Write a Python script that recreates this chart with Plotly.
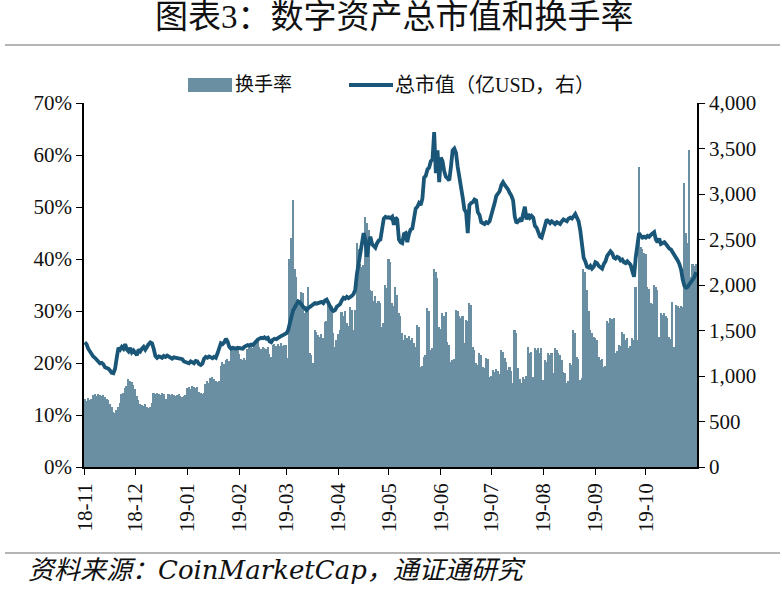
import pandas as pd
import plotly.graph_objects as go

# ---------------- data ----------------
start_date = "2018-11-01"

# daily turnover, %
turnover_2018_11 = [13.0, 12.6, 13.2, 12.8, 13.1, 13.8, 14.0, 13.7, 14.1, 13.9,
                    13.6, 13.8, 13.4, 13.0, 12.8, 12.2, 11.6, 10.6, 10.4, 11.0,
                    11.6, 12.4, 14.0, 14.3, 15.2, 15.6, 17.0, 16.6, 16.3, 15.8]
turnover_2018_12 = [15.0, 13.6, 12.8, 12.2, 12.0, 11.8, 12.1, 11.5, 11.3, 11.6,
                    12.4, 14.2, 14.0, 14.3, 14.1, 13.8, 14.2, 14.0, 13.1, 13.0,
                    14.0, 13.8, 14.1, 13.9, 13.6, 13.8, 14.0, 13.7, 13.4, 13.6, 13.9]
turnover_2019_01 = [15.2, 15.4, 15.0, 15.5, 15.3, 15.1, 15.4, 14.4, 14.2, 14.0,
                    14.3, 16.0, 16.5, 16.2, 17.2, 17.4, 17.0, 16.6, 16.3, 16.5,
                    19.5, 20.2, 19.8, 20.6, 20.8, 20.4, 22.5, 23.2, 22.8, 23.0, 22.6]
turnover_2019_02 = [21.8, 20.8, 20.5, 20.9, 20.6, 22.6, 23.0, 23.2, 22.8, 23.4,
                    24.4, 24.6, 23.0, 22.7, 23.1, 22.9, 22.6, 23.0, 21.8, 21.2,
                    23.4, 23.7, 23.2, 23.6, 23.3, 23.8, 23.2, 23.4]
turnover_2019_03 = [23.5, 21.0, 40.0, 44.0, 51.4, 38.0, 36.5, 32.0, 31.5, 33.7,
                    33.5, 29.6, 31.0, 34.7, 22.0, 21.5, 20.0, 26.4, 26.0, 25.4,
                    25.0, 25.6, 24.8, 27.8, 28.0, 31.6, 30.5, 31.0, 25.8, 23.1, 24.5]
turnover_2019_04 = [25.5, 26.4, 29.9, 29.0, 30.0, 27.7, 27.2, 30.8, 30.2, 26.4,
                    30.2, 43.0, 42.0, 39.0, 38.5, 38.8, 48.0, 47.0, 45.6, 34.0,
                    33.8, 32.0, 32.8, 31.6, 32.0, 31.5, 27.0, 27.7, 35.0, 34.5]
turnover_2019_05 = [40.0, 39.5, 31.6, 31.0, 34.7, 33.0, 29.6, 29.0, 25.8, 24.5,
                    25.4, 24.9, 25.2, 24.5, 24.9, 23.9, 23.1, 27.4, 27.0, 19.3,
                    19.5, 21.2, 21.6, 30.6, 30.0, 22.5, 22.9, 38.0, 37.5, 36.4, 27.0]
turnover_2019_06 = [26.5, 29.6, 29.0, 29.8, 24.0, 23.5, 20.2, 20.5, 20.8, 30.2,
                    30.0, 29.0, 28.6, 29.0, 23.9, 28.3, 28.0, 31.6, 31.2, 23.1,
                    22.5, 20.0, 19.6, 22.0, 21.6, 19.3, 19.0, 21.0, 20.8, 17.3]
turnover_2019_07 = [17.5, 18.7, 18.3, 18.9, 18.4, 17.8, 22.5, 22.2, 21.0, 20.2,
                    18.7, 19.2, 18.5, 16.2, 26.4, 25.8, 19.0, 17.0, 16.2, 17.3,
                    17.0, 17.5, 23.1, 22.0, 22.2, 17.3, 22.9, 22.5, 22.8, 22.0, 22.9]
turnover_2019_08 = [16.8, 20.6, 20.2, 22.0, 21.5, 22.0, 18.1, 22.9, 22.5, 22.0,
                    21.6, 20.6, 18.3, 18.0, 16.2, 16.5, 20.0, 19.6, 26.4, 25.8,
                    21.2, 20.8, 16.8, 17.2, 38.0, 37.5, 34.0, 30.0, 26.4, 25.8, 25.0]
turnover_2019_09 = [24.9, 24.5, 21.2, 20.6, 20.8, 19.3, 19.5, 28.0, 27.6, 28.7,
                    28.4, 28.7, 22.0, 22.4, 23.5, 23.2, 26.0, 25.6, 24.5, 24.8,
                    22.9, 23.2, 24.9, 24.5, 34.7, 24.5, 57.6, 42.4, 42.0, 41.2]
turnover_2019_10 = [41.0, 34.7, 34.2, 31.6, 31.4, 35.0, 34.6, 34.0, 25.0, 29.6,
                    29.2, 29.6, 29.0, 28.6, 25.0, 24.6, 31.8, 23.1, 31.2, 31.0,
                    30.6, 31.0, 30.8, 54.7, 45.0, 43.0, 61.0, 36.6, 39.0, 38.6, 39.0]

# daily total market cap, 亿USD
mcap_2018_11 = [1370, 1350, 1300, 1270, 1240, 1215, 1200, 1180, 1150, 1140,
                1145, 1130, 1095, 1090, 1080, 1060, 1035, 1030, 1080, 1200,
                1310, 1290, 1320, 1300, 1350, 1290, 1270, 1310, 1260, 1280]
mcap_2018_12 = [1250, 1230, 1290, 1270, 1300, 1320, 1290, 1330, 1350, 1370,
                1360, 1300, 1220, 1200, 1215, 1210, 1200, 1220, 1210, 1225,
                1215, 1200, 1190, 1205, 1200, 1190, 1195, 1180, 1185, 1160, 1150]
mcap_2019_01 = [1150, 1140, 1160, 1150, 1140, 1165, 1160, 1130, 1120, 1135,
                1190, 1210, 1200, 1215, 1205, 1195, 1210, 1200, 1250, 1320,
                1360, 1350, 1370, 1410, 1380, 1320, 1300, 1310, 1305, 1300, 1310]
mcap_2019_02 = [1305, 1310, 1300, 1320, 1330, 1340, 1335, 1345, 1340, 1360,
                1390, 1400, 1410, 1420, 1415, 1425, 1410, 1420, 1380, 1370,
                1400, 1410, 1405, 1420, 1430, 1440, 1450, 1460]
mcap_2019_03 = [1470, 1500, 1560, 1650, 1720, 1760, 1800, 1820, 1810, 1780,
                1760, 1740, 1725, 1745, 1760, 1770, 1780, 1800, 1795, 1805,
                1810, 1815, 1800, 1830, 1840, 1800, 1760, 1730, 1715, 1725, 1760]
mcap_2019_04 = [1770, 1790, 1830, 1860, 1850, 1870, 1855, 1865, 1880, 1900,
                1950, 2120, 2250, 2380, 2450, 2570, 2500, 2310, 2450, 2530,
                2450, 2420, 2410, 2460, 2490, 2500, 2620, 2730, 2750, 2740]
mcap_2019_05 = [2745, 2735, 2750, 2660, 2740, 2720, 2500, 2470, 2460, 2560,
                2570, 2470, 2560, 2610, 2620, 2720, 2840, 2860, 2900, 2880,
                2950, 3180, 3200, 3270, 3290, 3360, 3380, 3680, 3230, 3480, 3130]
mcap_2019_06 = [3400, 3360, 3250, 3190, 3170, 3150, 3300, 3480, 3500, 3450,
                3300, 3200, 3050, 2960, 2830, 2800, 2570, 2880, 2900, 2910,
                2940, 2930, 2800, 2770, 2690, 2680, 2670, 2690, 2680, 2700]
mcap_2019_07 = [2760, 2830, 2900, 2980, 3010, 3030, 3100, 3130, 3100, 3080,
                3050, 3010, 2980, 2930, 2750, 2680, 2700, 2720, 2700, 2800,
                2860, 2720, 2780, 2740, 2760, 2740, 2650, 2630, 2560, 2530, 2520]
mcap_2019_08 = [2590, 2680, 2720, 2700, 2680, 2700, 2690, 2670, 2690, 2680,
                2670, 2700, 2720, 2710, 2700, 2730, 2740, 2730, 2760, 2780,
                2740, 2700, 2600, 2480, 2300, 2260, 2200, 2190, 2210, 2180, 2200]
mcap_2019_09 = [2250, 2240, 2210, 2200, 2180, 2230, 2260, 2320, 2340, 2370,
                2350, 2300, 2290, 2310, 2300, 2270, 2280, 2250, 2240, 2260,
                2240, 2220, 2150, 2090, 2300, 2460, 2570, 2540, 2520, 2530]
mcap_2019_10 = [2520, 2540, 2530, 2550, 2560, 2580, 2500, 2470, 2510, 2450,
                2460, 2470, 2450, 2420, 2400, 2390, 2360, 2340, 2310, 2270,
                2230, 2170, 2060, 1990, 1970, 1980, 2010, 2030, 2060, 2090, 2140]

month_labels = ["18-11", "18-12", "19-01", "19-02", "19-03", "19-04",
                "19-05", "19-06", "19-07", "19-08", "19-09", "19-10", ""]
left_ticks = [0, 10, 20, 30, 40, 50, 60, 70]
right_ticks = [0, 500, 1000, 1500, 2000, 2500, 3000, 3500, 4000]

title_text = "图表3：数字资产总市值和换手率"
bar_name = "换手率"
line_name = "总市值（亿USD，右）"
source_text = "资料来源：CoinMarketCap，通证通研究"

# ---------------- assemble ----------------
turnover = (turnover_2018_11 + turnover_2018_12 + turnover_2019_01 + turnover_2019_02 +
            turnover_2019_03 + turnover_2019_04 + turnover_2019_05 + turnover_2019_06 +
            turnover_2019_07 + turnover_2019_08 + turnover_2019_09 + turnover_2019_10)
mcap = (mcap_2018_11 + mcap_2018_12 + mcap_2019_01 + mcap_2019_02 +
        mcap_2019_03 + mcap_2019_04 + mcap_2019_05 + mcap_2019_06 +
        mcap_2019_07 + mcap_2019_08 + mcap_2019_09 + mcap_2019_10)
dates = pd.date_range(start_date, periods=len(turnover), freq="D")
month_ticks = pd.date_range("2018-11-01", "2019-11-01", freq="MS")

BAR_COLOR = "#6b8fa2"
LINE_COLOR = "#1a5677"
NUM_FONT = "Liberation Serif, Noto Sans CJK SC"

fig = go.Figure()
fig.add_trace(go.Bar(x=dates, y=turnover, name=bar_name, yaxis="y",
                     marker=dict(color=BAR_COLOR, line=dict(width=0)),
                     showlegend=False))
fig.add_trace(go.Scatter(x=dates, y=mcap, name=line_name, yaxis="y2", mode="lines",
                         line=dict(color=LINE_COLOR, width=3.8),
                         showlegend=False))

W, H = 782, 590
L, R, T, B = 84, 697, 103, 467


def px_x(p):
    return (p - L) / (R - L)


def px_y(p):
    return (B - p) / (B - T)


axis_common = dict(showline=True, linecolor="black", linewidth=1.6,
                   ticks="outside", tickcolor="black", ticklen=6, tickwidth=1.4,
                   showgrid=False, zeroline=False, automargin=False,
                   tickfont=dict(family=NUM_FONT, size=21, color="#111"))

fig.update_layout(
    width=W, height=H,
    margin=dict(l=L, r=W - R, t=T, b=H - B, pad=0),
    paper_bgcolor="white", plot_bgcolor="white",
    bargap=0,
    xaxis=dict(type="date",
               range=[dates[0] - pd.Timedelta(hours=12), dates[-1] + pd.Timedelta(hours=12)],
               tickmode="array", tickvals=list(month_ticks), ticktext=month_labels,
               tickangle=-90, **axis_common),
    yaxis=dict(range=[0, 70], tickmode="array", tickvals=left_ticks,
               ticktext=[f"{v}%" for v in left_ticks], **axis_common),
    yaxis2=dict(range=[0, 4000], overlaying="y", side="right", tickmode="array",
                tickvals=right_ticks, ticktext=[f"{v:,}" for v in right_ticks],
                **axis_common),
    showlegend=False,
)

# title
fig.add_annotation(text=title_text, xref="paper", yref="paper",
                   x=px_x(394), y=px_y(17), xanchor="center", yanchor="middle",
                   showarrow=False,
                   font=dict(family=NUM_FONT, size=33, color="#111"))

# separator lines (header / footer)
for yy in (45, 553):
    fig.add_shape(type="line", xref="paper", yref="paper",
                  x0=px_x(5), x1=px_x(780), y0=px_y(yy), y1=px_y(yy),
                  line=dict(color="#b5b5b5", width=2))

# legend (drawn)
fig.add_shape(type="rect", xref="paper", yref="paper",
              x0=px_x(188), x1=px_x(232), y0=px_y(92), y1=px_y(78),
              fillcolor=BAR_COLOR, line=dict(width=0))
fig.add_annotation(text=bar_name, xref="paper", yref="paper",
                   x=px_x(233), y=px_y(85), xanchor="left", yanchor="middle",
                   showarrow=False, font=dict(family=NUM_FONT, size=19, color="#111"))
fig.add_shape(type="line", xref="paper", yref="paper",
              x0=px_x(349), x1=px_x(393), y0=px_y(85), y1=px_y(85),
              line=dict(color=LINE_COLOR, width=3.8))
fig.add_annotation(text=line_name, xref="paper", yref="paper",
                   x=px_x(393), y=px_y(85), xanchor="left", yanchor="middle",
                   showarrow=False, font=dict(family=NUM_FONT, size=20, color="#111"))

# source
fig.add_annotation(text="<i>" + source_text + "</i>", xref="paper", yref="paper",
                   x=px_x(26), y=px_y(570), xanchor="left", yanchor="middle",
                   showarrow=False,
                   font=dict(family="DejaVu Serif, Noto Sans CJK SC", size=26, color="#111"))

fig.write_html("out.html",
               config={"displayModeBar": False},
               post_script="document.body.style.margin='0';document.body.style.overflow='hidden';")
